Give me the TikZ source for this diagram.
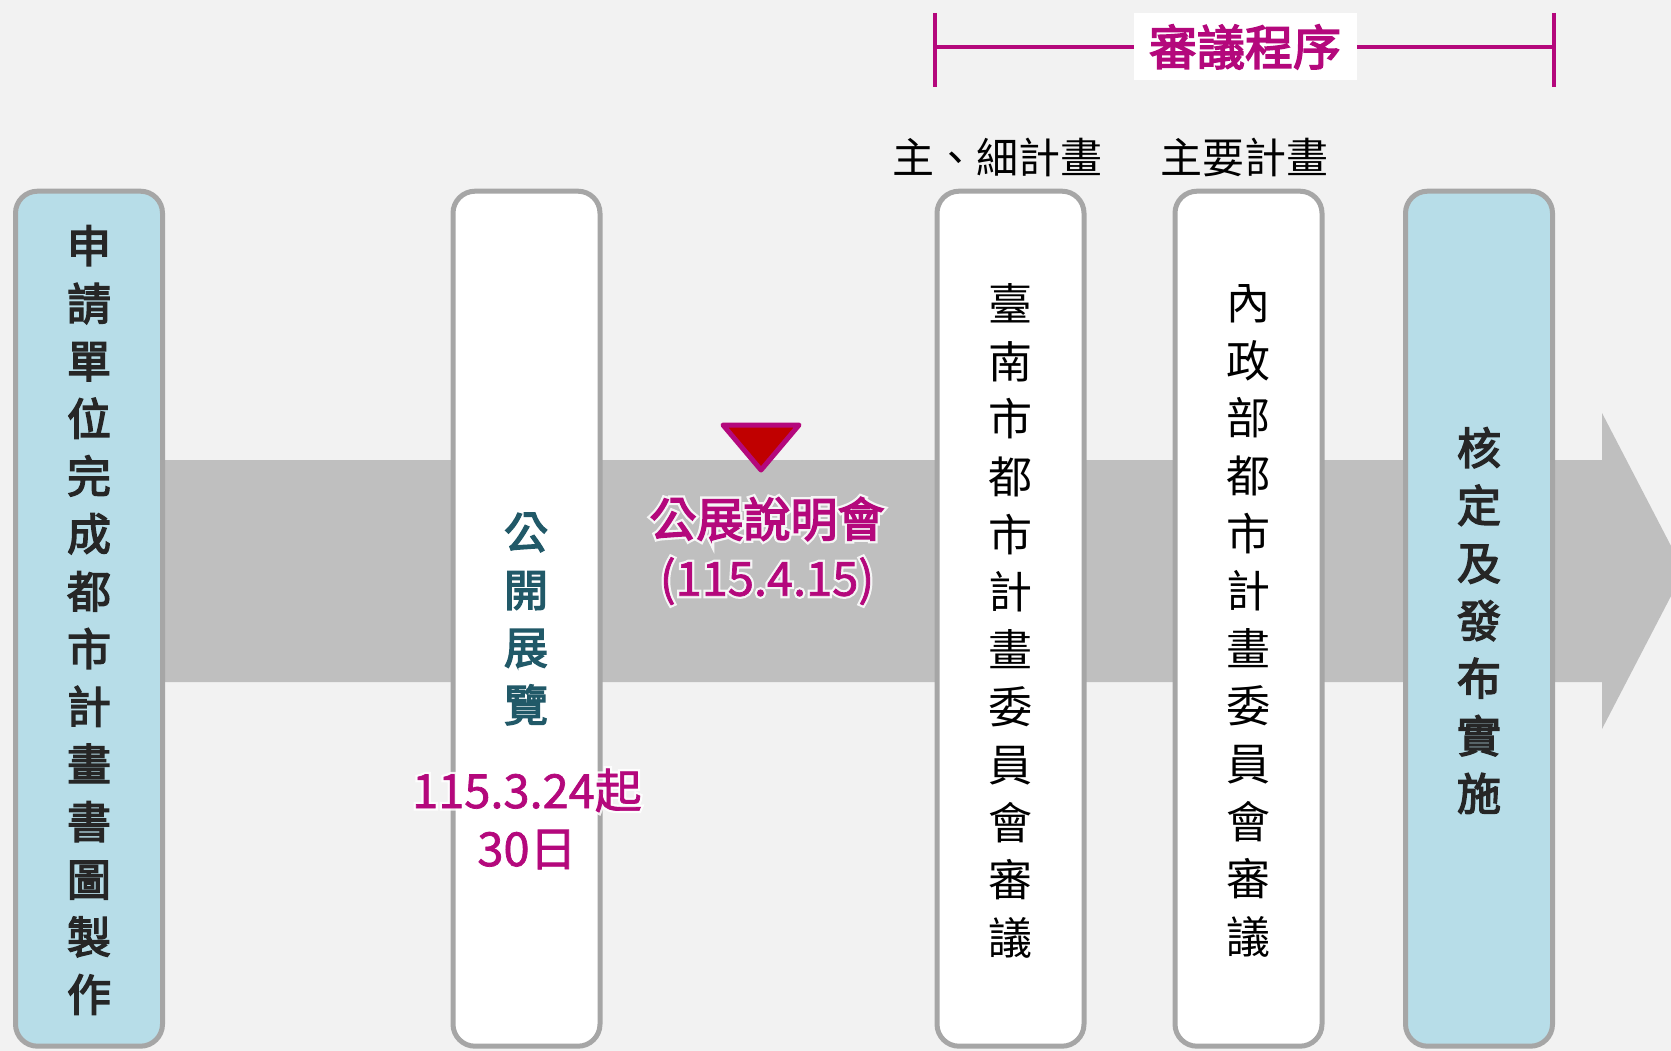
\documentclass[tikz,border=0pt]{standalone}
\usepackage{fontspec}
\setmainfont{Noto Sans CJK TC}
\newfontfamily\bfcjk{Noto Sans CJK TC}[FakeBold=3.2]
\newfontfamily\medcjk{Noto Sans CJK TC}[FakeBold=1.5]
\newfontfamily\halomed{Noto Sans CJK TC}[FakeBold=11]
\newfontfamily\halobf{Noto Sans CJK TC}[FakeBold=13]
\definecolor{bg}{HTML}{F2F2F2}
\definecolor{arrowgray}{HTML}{BFBFBF}
\definecolor{bordergray}{HTML}{A6A6A6}
\definecolor{lightblue}{HTML}{B7DDE8}
\definecolor{tealtext}{HTML}{215968}
\definecolor{darktext}{HTML}{262626}
\definecolor{mag}{HTML}{B4087C}
\definecolor{tri}{HTML}{C00000}
\begin{document}
\begin{tikzpicture}[x=1pt,y=-1pt,
  box/.style={draw=bordergray, line width=5pt, rounded corners=22pt, minimum width=147pt, minimum height=855pt, inner sep=0pt},
  bluebox/.style={box, fill=lightblue},
  whitebox/.style={box, fill=white},
  vtext/.style={font=\fontsize{44}{57.6}\selectfont, align=center, inner sep=0pt},
  boldv/.style={vtext, font=\fontsize{44}{57.6}\selectfont\bfcjk, text=darktext},
  thinv/.style={vtext, text=black},
  magtext/.style={text=mag, align=center, inner sep=0pt},
  halo/.style={text=white, align=center, inner sep=0pt, text opacity=0.85},
  toplabel/.style={font=\fontsize{42}{50}\selectfont, text=black, inner sep=0pt}
]
\useasboundingbox (0,0) rectangle (1671,1051);
\fill[bg] (0,0) rectangle (1671,1051);

% main arrow
\fill[arrowgray] (100,460) -- (1602,460) -- (1602,413) -- (1684,571) -- (1602,729) -- (1602,682) -- (100,682) -- cycle;

% boxes
\node[bluebox] (b1) at (89,618.7) {};
\node[whitebox] (b2) at (526.5,618.7) {};
\node[whitebox] (b3) at (1010.5,618.7) {};
\node[whitebox] (b4) at (1248.5,618.7) {};
\node[bluebox] (b5) at (1479,618.7) {};

% box texts
\node[boldv] (t1) at (89,620) {申\\請\\單\\位\\完\\成\\都\\市\\計\\畫\\書\\圖\\製\\作};
\node[boldv, text=tealtext] (t2) at (526,619) {公\\開\\展\\覽};
\node[halo, font=\fontsize{47}{58}\selectfont\halomed] (d2halo) at (527,819) {115.3.24起\\30日};
\node[magtext, font=\fontsize{47}{58}\selectfont\medcjk] (d2) at (527,819) {115.3.24起\\30日};
\node[thinv] (t3) at (1010.5,621) {臺\\南\\市\\都\\市\\計\\畫\\委\\員\\會\\審\\議};
\node[thinv] (t4) at (1248.5,621) {內\\政\\部\\都\\市\\計\\畫\\委\\員\\會\\審\\議};
\node[boldv] (t5) at (1479,620.5) {核\\定\\及\\發\\布\\實\\施};

% marker triangle
\coordinate (tA) at (723,425);
\coordinate (tB) at (799,425);
\coordinate (tC) at (761,470);
\draw[fill=tri, draw=mag, line width=5pt, line join=round] (tA) -- (tB) -- (tC) -- cycle;
\node[halo, font=\fontsize{47}{59}\selectfont] (pmhalo) at (767,551) {{\halobf 公展說明會}\\{\halomed (115.4.15)}};
\node[magtext, font=\fontsize{47}{59}\selectfont] (pm) at (767,551) {{\bfcjk 公展說明會}\\{\medcjk (115.4.15)}};

% review bracket
\coordinate (bl1) at (935,13);
\coordinate (bl2) at (935,87);
\coordinate (br1) at (1554,13);
\coordinate (br2) at (1554,87);
\coordinate (hl) at (935,47);
\coordinate (hr) at (1554,47);
\draw[mag, line width=4pt] (bl1) -- (bl2);
\draw[mag, line width=4pt] (br1) -- (br2);
\draw[mag, line width=4pt] (hl) -- (hr);
\node[fill=white, minimum width=223pt, minimum height=67pt, inner sep=0pt, text=mag, font=\fontsize{48}{56}\selectfont\bfcjk] (rev) at (1245,47) {審議程序};

% labels above boxes
\node[toplabel] (l3) at (997,157) {主、細計畫};
\node[toplabel] (l4) at (1244,157) {主要計畫};
\end{tikzpicture}
\end{document}
